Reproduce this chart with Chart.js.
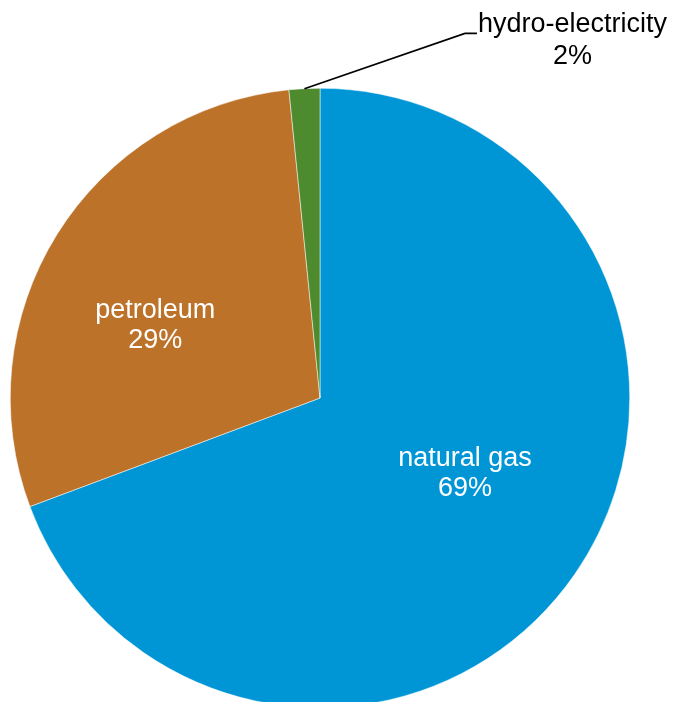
<!DOCTYPE html>
<html>
<head>
<meta charset="utf-8">
<script src="https://cdn.jsdelivr.net/npm/chart.js@4/dist/chart.umd.min.js"></script>
<style>
  html, body { margin: 0; padding: 0; background: #ffffff; overflow: hidden; }
  #wrap { position: relative; width: 673px; height: 720px; }
</style>
</head>
<body>
<div id="wrap"><canvas id="c"></canvas></div>
<script>
// ---- data ----
const categories = ['natural gas', 'petroleum', 'hydro-electricity'];
const shares = [69.3, 29.1, 1.6];

// ---- styles ----
const sliceColors = ['#0096D6', '#BD722A', '#4E8A2E'];
const labelFont = '27px "Liberation Sans", Arial, sans-serif';
const lineGap = 30;
// inside label block centres, as fractions of the radius relative to the pie centre
const insideOffsets = { 0: [0.468, 0.245], 1: [-0.532, -0.233] };
// outside (leader) label for the last slice: elbow as fraction of radius
const leaderElbow = [0.468, -1.177];
const leaderTail = 12;

const labelPlugin = {
  id: 'sliceLabels',
  afterDatasetsDraw(chart) {
    const meta = chart.getDatasetMeta(0);
    const data = chart.data.datasets[0].data;
    const total = data.reduce((a, b) => a + b, 0);
    const ctx = chart.ctx;
    ctx.save();
    ctx.font = labelFont;
    ctx.textBaseline = 'middle';
    ctx.textAlign = 'center';
    meta.data.forEach((arc, i) => {
      const p = arc.getProps(['x', 'y', 'startAngle', 'endAngle', 'outerRadius'], true);
      const lines = [chart.data.labels[i], Math.round(data[i] / total * 100) + '%'];
      if (insideOffsets[i]) {
        const cx = p.x + p.outerRadius * insideOffsets[i][0];
        const cy = p.y + p.outerRadius * insideOffsets[i][1];
        ctx.fillStyle = '#ffffff';
        ctx.fillText(lines[0], cx, cy - lineGap / 2);
        ctx.fillText(lines[1], cx, cy + lineGap / 2);
      } else {
        const mid = (p.startAngle + p.endAngle) / 2;
        const sx = p.x + Math.cos(mid) * p.outerRadius;
        const sy = p.y + Math.sin(mid) * p.outerRadius;
        const ex = p.x + p.outerRadius * leaderElbow[0];
        const ey = p.y + p.outerRadius * leaderElbow[1];
        ctx.strokeStyle = '#000000';
        ctx.lineWidth = 1.6;
        ctx.beginPath();
        ctx.moveTo(sx, sy);
        ctx.lineTo(ex, ey);
        ctx.lineTo(ex + leaderTail, ey);
        ctx.stroke();
        const w = ctx.measureText(lines[0]).width;
        const tx = ex + leaderTail + 1 + w / 2;
        ctx.fillStyle = '#000000';
        ctx.fillText(lines[0], tx, ey - 9);
        ctx.fillText(lines[1], tx, ey - 9 + lineGap + 2);
      }
    });
    ctx.restore();
  }
};

new Chart(document.getElementById('c'), {
  type: 'pie',
  data: {
    labels: categories,
    datasets: [{
      data: shares,
      backgroundColor: sliceColors,
      borderColor: '#ffffff',
      borderWidth: 0.5
    }]
  },
  options: {
    responsive: true,
    maintainAspectRatio: false,
    animation: false,
    layout: { padding: { top: 88, bottom: 12, left: 10, right: 43 } },
    plugins: {
      legend: { display: false },
      tooltip: { enabled: false },
      title: { display: false }
    }
  },
  plugins: [labelPlugin]
});
</script>
</body>
</html>
